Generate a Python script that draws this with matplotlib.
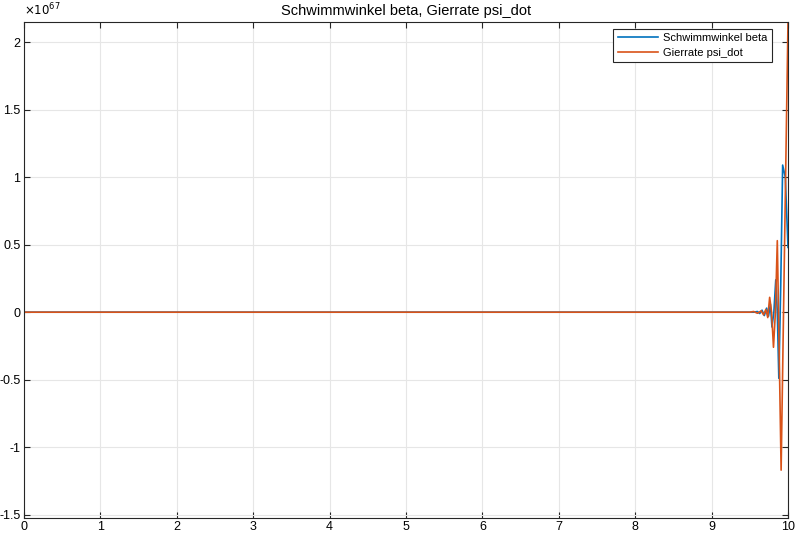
import numpy as np
import matplotlib
matplotlib.use('Agg')
from matplotlib import pyplot as plt
from matplotlib.ticker import FuncFormatter

plt.rcParams['font.family'] = ['Liberation Sans', 'DejaVu Sans']

# Werte in Einheiten von 1e67
t_beta = [0, 9.55, 9.60, 9.63, 9.66, 9.69, 9.72, 9.745, 9.77, 9.79, 9.815,
          9.84, 9.86, 9.88, 9.905, 9.93, 9.965, 10.0]
beta = [0, 0, 0.005, -0.01, 0.015, -0.025, 0.03, -0.03, 0.06, -0.11, 0.0,
        0.24, 0.0, -0.49, 0.2, 1.09, 1.0, 0.48]

t_psi = [0, 9.50, 9.55, 9.60, 9.65, 9.68, 9.71, 9.735, 9.76, 9.785, 9.81,
         9.835, 9.86, 9.885, 9.91, 9.955, 10.0]
psi_dot = [0, 0, 0.005, -0.008, 0.01, -0.02, 0.02, -0.04, 0.11, 0.0, -0.26,
           0.0, 0.53, -0.3, -1.17, 0.5, 2.15]

scale = 1e67

fig = plt.figure(figsize=(8, 5.57), dpi=100)
ax = fig.add_axes([0.03, 0.07, 0.955, 0.8905])

ax.plot(t_beta, np.array(beta) * scale, color='#0072BD', lw=1.2, label='Schwimmwinkel beta')
ax.plot(t_psi, np.array(psi_dot) * scale, color='#D95319', lw=1.2, label='Gierrate psi_dot')

ax.set_xlim(0, 10)
ax.set_ylim(-1.525 * scale, 2.15 * scale)
ax.set_xticks(np.arange(0, 11, 1))
ax.set_yticks(np.arange(-1.5, 2.01, 0.5) * scale)
ax.yaxis.set_major_formatter(FuncFormatter(lambda v, p: '%g' % round(v / scale, 2)))
ax.text(0, 1.008, r'$\times10^{67}$', transform=ax.transAxes, fontsize=8.5, va='bottom', ha='left')

ax.grid(True, color='#e6e6e6', lw=0.8)
ax.set_axisbelow(True)
ax.tick_params(direction='in', top=True, right=True, labelsize=9, color='#262626',
               length=4, pad=2.5)
for s in ax.spines.values():
    s.set_color('#262626')
    s.set_linewidth(0.8)

ax.set_title('Schwimmwinkel beta, Gierrate psi_dot', fontsize=10.5, pad=5)
leg = ax.legend(loc='upper right', fontsize=8, fancybox=False, edgecolor='#262626',
                framealpha=1, borderaxespad=0.6, handlelength=3.6, borderpad=0.4,
                labelspacing=0.4, handletextpad=0.5, bbox_to_anchor=(0.988, 1.0))
leg.get_frame().set_linewidth(0.8)

fig.savefig('out.png', dpi=100)
